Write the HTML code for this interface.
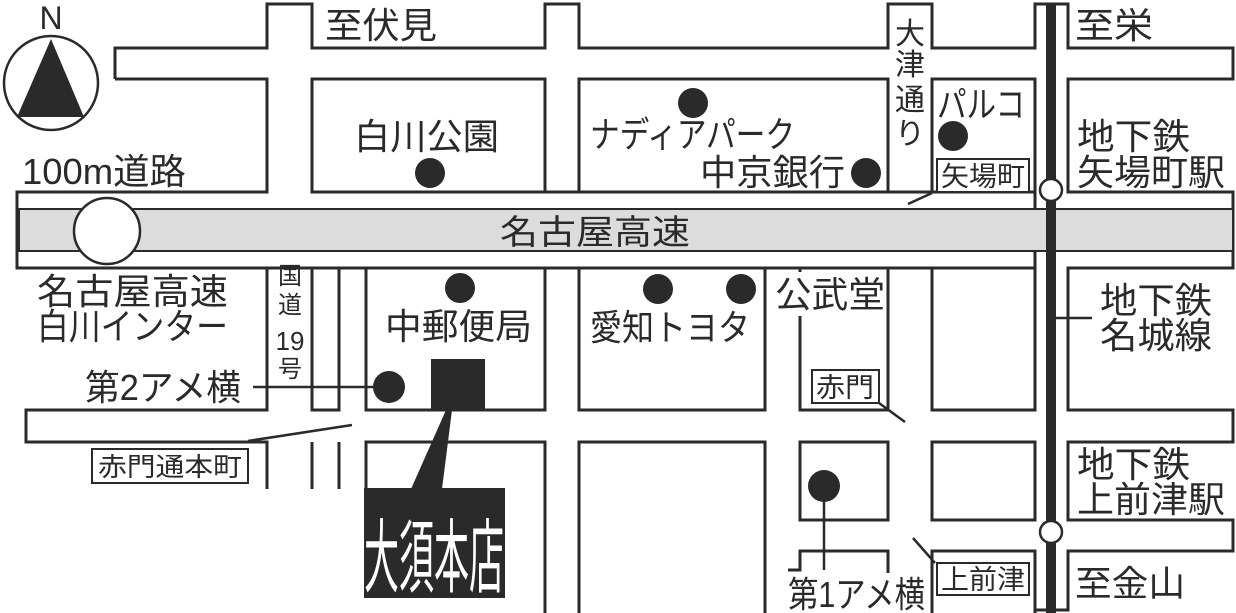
<!DOCTYPE html>
<html><head><meta charset="utf-8"><style>
html,body{margin:0;padding:0;background:#fff;}
svg{display:block;}
text{font-family:"Liberation Sans","Noto Sans CJK JP",sans-serif;fill:#2a2a2a;}
</style></head><body>
<svg width="1236" height="613" viewBox="0 0 1236 613" xmlns="http://www.w3.org/2000/svg">
<g fill="none" stroke="#2a2a2a" stroke-width="3">
<path d="M115,79 L115,48 L267,48 L267,4 L312,4 L312,48 L545,48 L545,4 L579,4 L579,48 L888,48 L888,4 L932,4 L932,48 L1035,48 L1035,4 L1068,4 L1068,48 L1233,48 L1233,79 L1068,79 L1068,192 L1233,192 L1233,268 L1068,268 L1068,410 L1233,410 L1233,442 L1068,442 L1068,520 L1233,520 L1233,551 L1068,551 L1068,610 L1035,610"/>
<path d="M115,79 L267,79 L267,192 L17,192 L17,268 L267,268 L267,410 L26,410 L26,442 L267,442 L267,489"/>
<rect x="312" y="79" width="233" height="113"/>
<rect x="579" y="79" width="309" height="113"/>
<path d="M932,192 L932,79 L1035,79 L1035,192"/>
<line x1="312" y1="192" x2="1035" y2="192"/>
<line x1="267" y1="268" x2="1035" y2="268"/>
<rect x="312" y="268" width="27" height="142"/>
<rect x="366" y="268" width="179" height="142"/>
<rect x="579" y="268" width="186" height="142"/>
<rect x="800" y="268" width="88" height="142"/>
<rect x="932" y="268" width="103" height="142"/>
<path d="M312,442 L312,489 M339,442 L339,489"/>
<path d="M366,489 L366,442 L545,442 L545,613"/>
<path d="M579,613 L579,442 L765,442 L765,613"/>
<rect x="800" y="442" width="88" height="78"/>
<rect x="932" y="442" width="103" height="78"/>
<path d="M788,570 L800,570 L800,551 L888,551 L888,573"/>
<path d="M932,613 L932,551 L1035,551 L1035,613"/>
<path d="M1035,4 L1035,48 M1035,192 L1035,268"/>
</g>
<rect x="19" y="209" width="1214" height="42" fill="#dcdcdc" stroke="#2a2a2a" stroke-width="2"/>
<circle cx="107" cy="231" r="33" fill="#fff" stroke="#2a2a2a" stroke-width="2.5"/>
<text x="500" y="244" font-size="34" textLength="190" lengthAdjust="spacingAndGlyphs">名古屋高速</text>
<rect x="1046" y="4" width="10" height="609" fill="#2a2a2a"/>
<circle cx="1051" cy="190" r="11" fill="#fff" stroke="#2a2a2a" stroke-width="2.5"/>
<circle cx="1051" cy="532" r="11" fill="#fff" stroke="#2a2a2a" stroke-width="2.5"/>
<line x1="1056" y1="318" x2="1092" y2="318" stroke="#2a2a2a" stroke-width="2.5"/>
<circle cx="51" cy="83" r="47" fill="#fff" stroke="#2a2a2a" stroke-width="2.5"/>
<polygon points="51,39 17,117 84,117" fill="#2a2a2a"/>
<text x="51" y="29" font-size="32" text-anchor="middle">N</text>
<g fill="#2a2a2a">
<circle cx="430" cy="173" r="15"/>
<circle cx="693" cy="103" r="15"/>
<circle cx="866" cy="173" r="15"/>
<circle cx="953" cy="136" r="15"/>
<circle cx="460" cy="288" r="15"/>
<circle cx="658" cy="289" r="15"/>
<circle cx="741" cy="289" r="15"/>
<circle cx="389" cy="387" r="16"/>
<circle cx="824" cy="486" r="16"/>
<rect x="431" y="359" width="54" height="51"/>
<polygon points="446,410 452,410 442,489 411,489"/>
<rect x="364" y="488" width="141" height="110"/>
</g>
<g stroke="#2a2a2a" stroke-width="2.5" fill="none">
<line x1="253" y1="387" x2="389" y2="387"/>
<line x1="824" y1="486" x2="824" y2="570"/>
<line x1="248" y1="441" x2="352" y2="425"/>
<line x1="932" y1="193" x2="908" y2="204"/>
<line x1="879" y1="403" x2="905" y2="422"/>
<line x1="913" y1="538" x2="935" y2="563"/>
</g>
<g fill="#fff" stroke="#2a2a2a" stroke-width="2">
<rect x="92" y="449" width="156" height="34"/>
<rect x="937" y="159" width="92" height="33"/>
<rect x="812" y="370" width="67" height="33"/>
<rect x="937" y="563" width="92" height="32"/>
</g>
<text x="98" y="476" font-size="26" textLength="144" lengthAdjust="spacingAndGlyphs">赤門通本町</text>
<text x="941" y="186" font-size="27" textLength="84" lengthAdjust="spacingAndGlyphs">矢場町</text>
<text x="816" y="397" font-size="27" textLength="58" lengthAdjust="spacingAndGlyphs">赤門</text>
<text x="941" y="589" font-size="27" textLength="84" lengthAdjust="spacingAndGlyphs">上前津</text>
<rect x="770" y="272" width="116" height="44" fill="#fff"/>
<g font-size="36" lengthAdjust="spacingAndGlyphs">
<text x="325" y="38" textLength="112" lengthAdjust="spacingAndGlyphs">至伏見</text>
<text x="1075" y="38" textLength="78" lengthAdjust="spacingAndGlyphs">至栄</text>
<text x="22" y="184" textLength="164" lengthAdjust="spacingAndGlyphs">100m道路</text>
<text x="354" y="149" textLength="145" lengthAdjust="spacingAndGlyphs">白川公園</text>
<text x="590" y="147" textLength="205" lengthAdjust="spacingAndGlyphs">ナディアパーク</text>
<text x="700" y="185" textLength="145" lengthAdjust="spacingAndGlyphs">中京銀行</text>
<text x="937" y="117" textLength="88" lengthAdjust="spacingAndGlyphs">パルコ</text>
<text x="1077" y="149" textLength="113" lengthAdjust="spacingAndGlyphs">地下鉄</text>
<text x="1077" y="185" textLength="148" lengthAdjust="spacingAndGlyphs">矢場町駅</text>
<text x="37" y="304" textLength="191" lengthAdjust="spacingAndGlyphs">名古屋高速</text>
<text x="37" y="339" textLength="191" lengthAdjust="spacingAndGlyphs">白川インター</text>
<text x="385" y="339" textLength="147" lengthAdjust="spacingAndGlyphs">中郵便局</text>
<text x="590" y="340" textLength="160" lengthAdjust="spacingAndGlyphs">愛知トヨタ</text>
<text x="775" y="307" textLength="110" lengthAdjust="spacingAndGlyphs">公武堂</text>
<text x="1100" y="313" textLength="112" lengthAdjust="spacingAndGlyphs">地下鉄</text>
<text x="1100" y="348" textLength="112" lengthAdjust="spacingAndGlyphs">名城線</text>
<text x="85" y="400" textLength="156" lengthAdjust="spacingAndGlyphs">第2アメ横</text>
<text x="1077" y="477" textLength="113" lengthAdjust="spacingAndGlyphs">地下鉄</text>
<text x="1077" y="512" textLength="148" lengthAdjust="spacingAndGlyphs">上前津駅</text>
<text x="788" y="607" textLength="137" lengthAdjust="spacingAndGlyphs">第1アメ横</text>
<text x="1075" y="596" textLength="110" lengthAdjust="spacingAndGlyphs">至金山</text>
</g>
<g font-size="30" text-anchor="middle">
<text x="910" y="44">大</text>
<text x="910" y="75">津</text>
<text x="910" y="110">通</text>
<text x="910" y="144">り</text>
</g>
<g font-size="24" text-anchor="middle">
<text x="290" y="284">国</text>
<text x="290" y="313">道</text>
<text x="290" y="350" font-size="26">19</text>
<text x="290" y="377">号</text>
</g>
<text transform="translate(434,586) scale(1,2.3)" font-size="35" text-anchor="middle" style="fill:#fff">大須本店</text>
</svg>
</body></html>
